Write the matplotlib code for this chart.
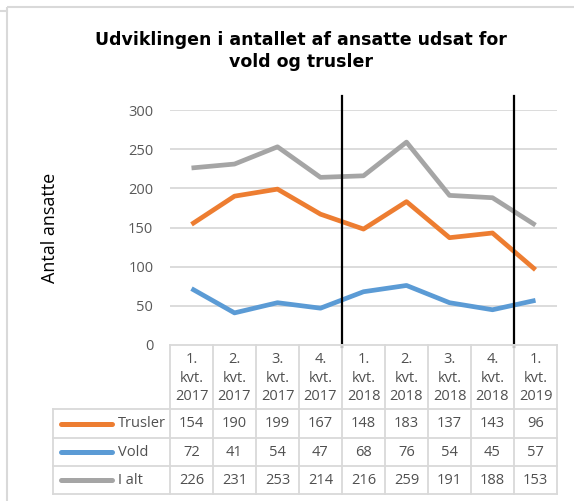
import matplotlib
matplotlib.use("Agg")
import matplotlib.pyplot as plt
from matplotlib.patches import Rectangle

categories = ["1.\nkvt.\n2017", "2.\nkvt.\n2017", "3.\nkvt.\n2017", "4.\nkvt.\n2017",
              "1.\nkvt.\n2018", "2.\nkvt.\n2018", "3.\nkvt.\n2018", "4.\nkvt.\n2018",
              "1.\nkvt.\n2019"]
trusler = [154, 190, 199, 167, 148, 183, 137, 143, 96]
vold = [72, 41, 54, 47, 68, 76, 54, 45, 57]
i_alt = [226, 231, 253, 214, 216, 259, 191, 188, 153]
series_names = ["Trusler", "Vold", "I alt"]
series = [trusler, vold, i_alt]
colors = ["#ED7D31", "#5B9BD5", "#A5A5A5"]
yticks = [0, 50, 100, 150, 200, 250, 300]
vlines_at = [4, 8]  # category boundaries

W, H = 574, 501
fig = plt.figure(figsize=(W / 100, H / 100), dpi=100)

def fx(px):
    return px / W

def fy(py):
    return 1 - py / H

# main axes
left_px, right_px, top_px, bot_px = 170, 557, 110, 345
ax = fig.add_axes([fx(left_px), fy(bot_px), fx(right_px - left_px), (bot_px - top_px) / H])
n = len(categories)
xs = [i + 0.5 for i in range(n)]
ax.set_xlim(0, n)
ax.set_ylim(0, 300)
for s, c in zip(series, colors):
    ax.plot(xs, s, color=c, lw=3.4, solid_joinstyle="round", solid_capstyle="butt", zorder=3)
ax.set_yticks(yticks)
ax.set_yticklabels([str(v) for v in yticks], color="#595959", fontsize=10.5, family="Open Sans")
ax.tick_params(axis="y", length=0, pad=12)
ax.set_xticks([])
for sp in ax.spines.values():
    sp.set_visible(False)
for v in yticks[1:]:
    ax.axhline(v, color="#D9D9D9", lw=1.3, zorder=1)
for v in vlines_at:
    ax.plot([v, v], [-2, 318], color="black", lw=1.6, clip_on=False, zorder=4)

ax.set_ylabel("Antal ansatte", fontsize=13, family="Open Sans", color="black", labelpad=50)

# overlay axes in pixel coordinates for table + frame
ov = fig.add_axes([0, 0, 1, 1])
ov.set_xlim(0, W)
ov.set_ylim(H, 0)
ov.axis("off")

# frame
ov.add_patch(Rectangle((7, 7), W + 10, H + 10, fill=False, ec="#D9D9D9", lw=1.5))
ov.plot([0, 7], [11, 11], color="#D9D9D9", lw=1.5)

fig.canvas.draw()
def col_px(xd):
    disp = ax.transData.transform((xd, 0))
    return disp[0]

edges = [col_px(i) for i in range(n + 1)]
centers = [col_px(x) for x in xs]

grid_c = "#D9D9D9"
hdr_top, hdr_bot = 345, 409
row_edges = [409, 438, 466, 494]
tab_left = 53

# vertical lines
for e in edges:
    ov.plot([e, e], [hdr_top, row_edges[-1]], color=grid_c, lw=1.3, zorder=1)
ov.plot([tab_left, tab_left], [row_edges[0], row_edges[-1]], color=grid_c, lw=1.3)
# horizontal lines
ov.plot([edges[0], edges[-1]], [hdr_top, hdr_top], color=grid_c, lw=1.3)
for r in row_edges:
    ov.plot([tab_left, edges[-1]], [r, r], color=grid_c, lw=1.3)

tfont = dict(family="Open Sans", fontsize=10.5, color="#505050")
for cx, lab in zip(centers, categories):
    ov.text(cx, (hdr_top + hdr_bot) / 2 + 1, lab, ha="center", va="center",
            linespacing=1.3, **tfont)

for r, (name, s, c) in enumerate(zip(series_names, series, colors)):
    yc = (row_edges[r] + row_edges[r + 1]) / 2
    ov.plot([61, 112], [yc, yc], color=c, lw=3.6, solid_capstyle="round")
    ov.text(118, yc, name, ha="left", va="center", **tfont)
    for cx, v in zip(centers, s):
        ov.text(cx, yc, str(v), ha="center", va="center", **tfont)

fig.text(fx(301), fy(51), "Udviklingen i antallet af ansatte udsat for\nvold og trusler",
         ha="center", va="center", fontsize=12.5, fontweight="bold", family="DejaVu Sans",
         linespacing=1.25)

fig.savefig("out.png", dpi=100)
